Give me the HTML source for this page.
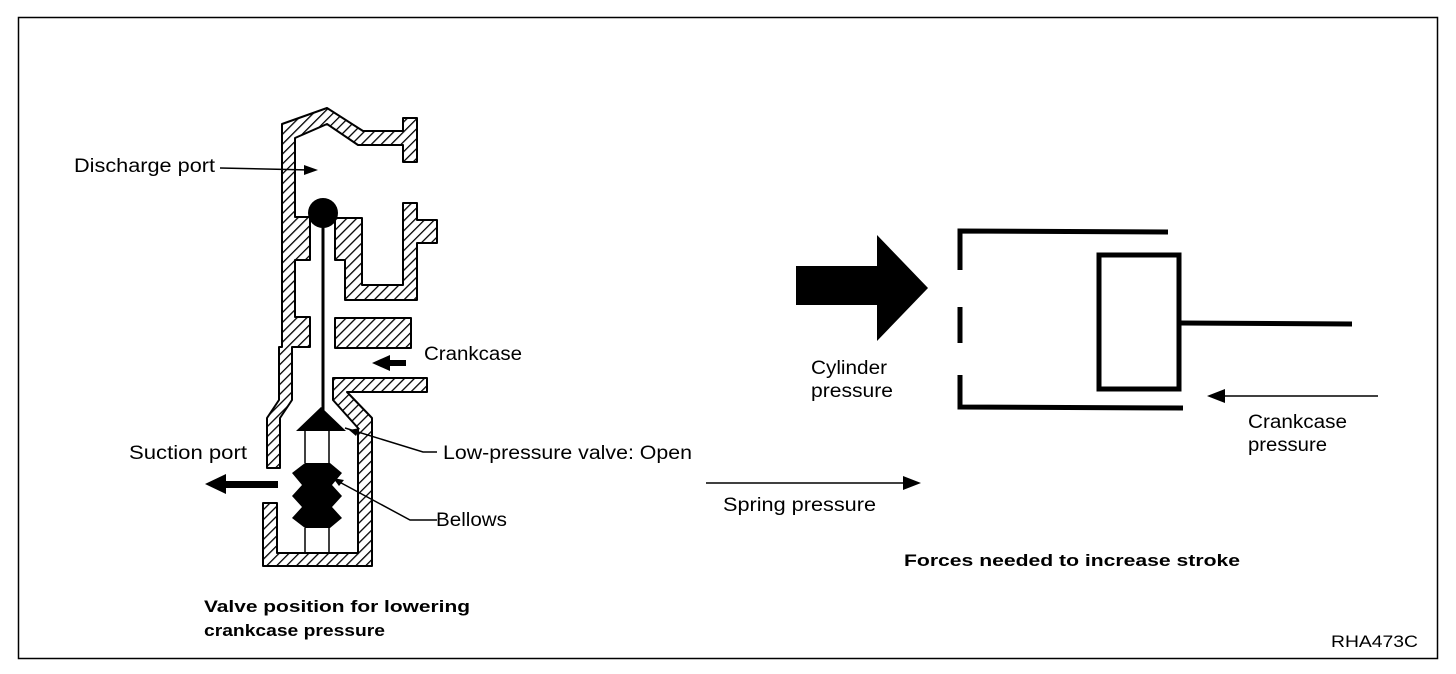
<!DOCTYPE html>
<html><head><meta charset="utf-8"><style>
html,body{margin:0;padding:0;background:#fff;}
svg{display:block;}
text{font-family:"Liberation Sans",Arial,sans-serif;font-size:19px;fill:#000;}
.b{font-weight:bold;font-size:17px;}
</style></head><body>
<svg width="1456" height="674" viewBox="0 0 1456 674" xmlns="http://www.w3.org/2000/svg">
<defs>
<pattern id="h" width="7" height="7" patternUnits="userSpaceOnUse" patternTransform="rotate(45)">
<rect width="7" height="7" fill="#fff"/><line x1="0" y1="0" x2="0" y2="7" stroke="#000" stroke-width="2.6"/>
</pattern>
</defs>
<rect x="18.5" y="17.5" width="1419" height="641" fill="none" stroke="#000" stroke-width="1.5"/>
<g fill="url(#h)" stroke="#000" stroke-width="2" stroke-linejoin="round">
<polygon points="282,124 327,108 363,131 403,131 403,118 417,118 417,162 403,162 403,145 358,145 327,124 295,138 295,217 310,217 310,260 295,260 295,317 310,317 310,347 292,347 292,400 280,418 280,468 267,468 267,418 279,400 279,347 282,347"/>
<polygon points="335,218 362,218 362,285 403,285 403,203 417,203 417,220 437,220 437,243 417,243 417,300 345,300 345,260 335,260"/>
<rect x="335" y="318" width="76" height="30"/>
<polygon points="333,378 427,378 427,392 347,392 372,418 372,566 263,566 263,503 277,503 277,553 358,553 358,428 333,400"/>
</g>
<line x1="323" y1="225" x2="323" y2="412" stroke="#000" stroke-width="3"/>
<circle cx="323" cy="213" r="15" fill="#000"/>
<polygon points="296,431 321,407 346,431" fill="#000"/>
<g stroke="#000" stroke-width="1.5">
<line x1="305" y1="431" x2="305" y2="463"/><line x1="329" y1="431" x2="329" y2="463"/>
<line x1="305" y1="528" x2="305" y2="553"/><line x1="329" y1="528" x2="329" y2="553"/>
</g>
<polygon points="305,463 330,463 342,473 332,485 342,496 332,507 342,518 330,528 305,528 292,518 302,507 292,496 302,485 292,473" fill="#000"/>
<g stroke="#000" stroke-width="1.5" fill="none">
<polyline points="437,452 423,452 345,428"/>
<polyline points="437,520 410,520 332,478"/>
<line x1="220" y1="168" x2="310" y2="170"/>
</g>
<polygon points="318,170 304,165 304,175" fill="#000"/>
<polygon points="349,430 360,428 356,436" fill="#000"/>
<polygon points="333,478 344,480 339,486" fill="#000"/>
<rect x="388" y="360" width="18" height="6" fill="#000"/>
<polygon points="372,363 390,355 390,371" fill="#000"/>
<rect x="222" y="481" width="56" height="7" fill="#000"/>
<polygon points="205,484 226,474 226,494" fill="#000"/>
<text x="74" y="172" textLength="141" lengthAdjust="spacingAndGlyphs">Discharge port</text>
<text x="424" y="360" textLength="98" lengthAdjust="spacingAndGlyphs">Crankcase</text>
<text x="129" y="459" textLength="118" lengthAdjust="spacingAndGlyphs">Suction port</text>
<text x="443" y="459" textLength="249" lengthAdjust="spacingAndGlyphs">Low-pressure valve: Open</text>
<text x="436" y="526" textLength="71" lengthAdjust="spacingAndGlyphs">Bellows</text>
<text class="b" x="204" y="612" textLength="266" lengthAdjust="spacingAndGlyphs">Valve position for lowering</text>
<text class="b" x="204" y="636" textLength="181" lengthAdjust="spacingAndGlyphs">crankcase pressure</text>
<polygon points="796,266 877,266 877,235 928,288 877,341 877,305 796,305" fill="#000"/>
<g stroke="#000" stroke-width="5" fill="none">
<polyline points="1168,232 960,231 960,270"/>
<line x1="960" y1="307" x2="960" y2="343"/>
<polyline points="960,375 960,407 1183,408"/>
<rect x="1099" y="255" width="80" height="134"/>
<line x1="1181" y1="323" x2="1352" y2="324"/>
</g>
<line x1="1222" y1="396" x2="1378" y2="396" stroke="#000" stroke-width="1.5"/>
<polygon points="1207,396 1225,389 1225,403" fill="#000"/>
<line x1="706" y1="483" x2="905" y2="483" stroke="#000" stroke-width="1.5"/>
<polygon points="921,483 903,476 903,490" fill="#000"/>
<text x="811" y="374" textLength="76" lengthAdjust="spacingAndGlyphs">Cylinder</text>
<text x="811" y="397" textLength="82" lengthAdjust="spacingAndGlyphs">pressure</text>
<text x="1248" y="428" textLength="99" lengthAdjust="spacingAndGlyphs">Crankcase</text>
<text x="1248" y="451" textLength="79" lengthAdjust="spacingAndGlyphs">pressure</text>
<text x="723" y="511" textLength="153" lengthAdjust="spacingAndGlyphs">Spring pressure</text>
<text class="b" x="904" y="566" textLength="336" lengthAdjust="spacingAndGlyphs">Forces needed to increase stroke</text>
<text x="1331" y="647" textLength="87" lengthAdjust="spacingAndGlyphs" style="font-size:17px">RHA473C</text>
</svg>
</body></html>
